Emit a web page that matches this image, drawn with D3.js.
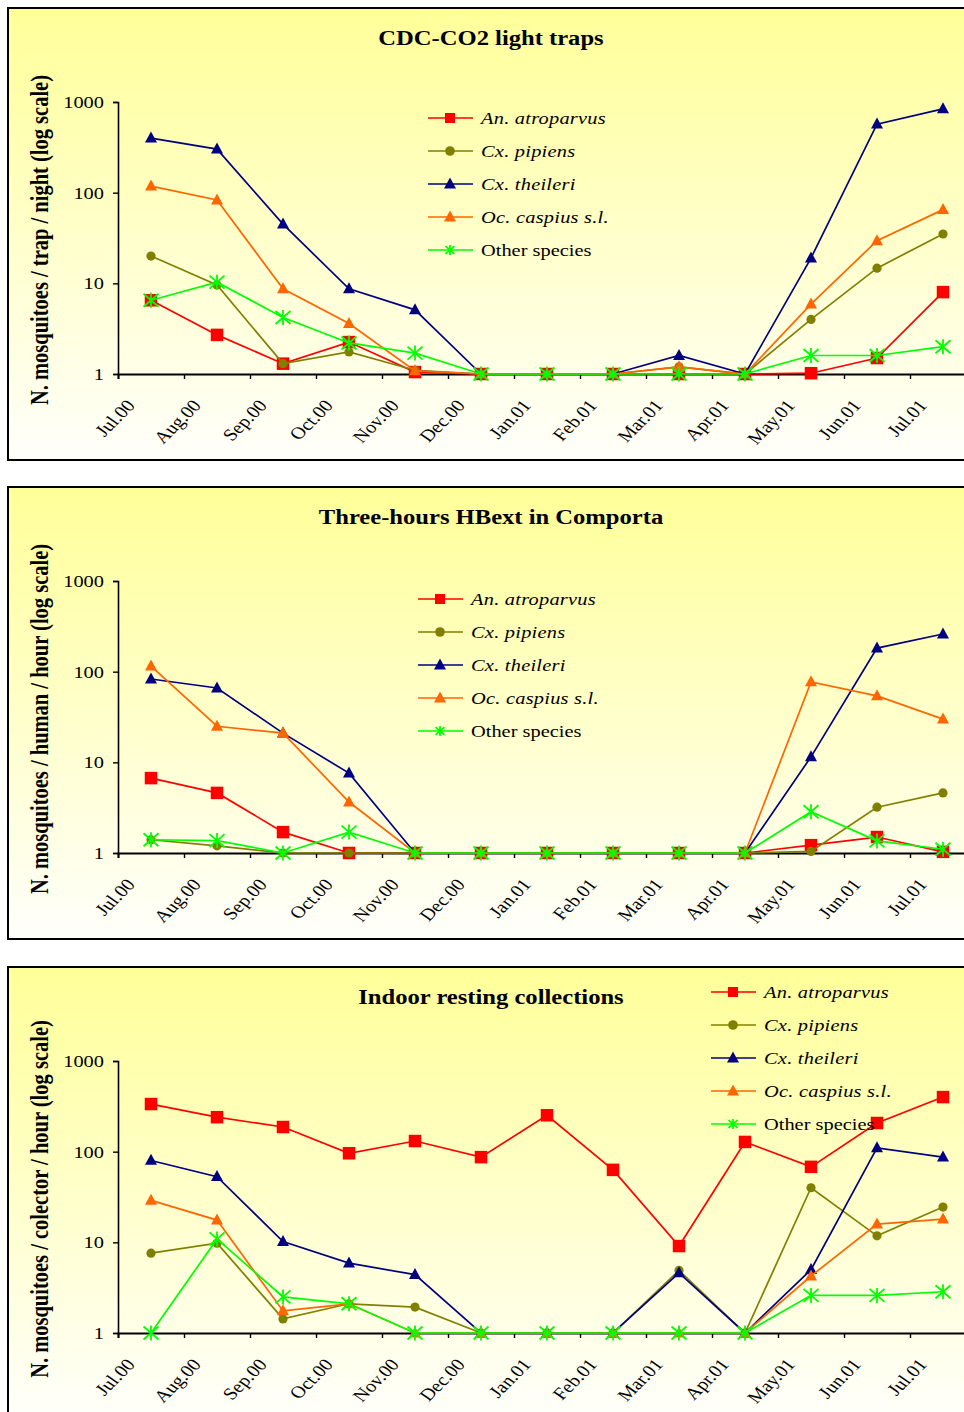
<!DOCTYPE html>
<html>
<head>
<meta charset="utf-8">
<script src="https://cdn.jsdelivr.net/npm/d3@7"></script>
<style>
  html, body { margin: 0; padding: 0; background: #ffffff; }
  svg { display: block; }
  text { font-family: "Liberation Serif", "Times New Roman", serif; fill: #000; }
</style>
</head>
<body>
<svg id="chart" width="964" height="1412"></svg>
<script>
// Months sampled (category axis)
const months = ["Jul.00","Aug.00","Sep.00","Oct.00","Nov.00","Dec.00","Jan.01","Feb.01","Mar.01","Apr.01","May.01","Jun.01","Jul.01"];
const species = ["An. atroparvus","Cx. pipiens","Cx. theileri","Oc. caspius s.l.","Other species"];
const yTicks = [1, 10, 100, 1000];

// CDC-CO2 light traps (mosquitoes / trap / night)
const cdcAtroparvus = [6.5, 2.7, 1.3, 2.25, 1.05, 1, 1, 1, 1, 1, 1.02, 1.5, 8];
const cdcPipiens    = [20, 9.6, 1.3, 1.75, 1.1, 1, 1, 1, 1.2, 1, 4, 14.7, 35];
const cdcTheileri   = [400, 302, 45, 8.7, 5.1, 1, 1, 1, 1.6, 1, 19, 570, 840];
const cdcCaspius    = [118, 83, 8.7, 3.6, 1.08, 1, 1, 1, 1.2, 1, 5.9, 29.5, 65];
const cdcOther      = [6.5, 10.3, 4.2, 2.2, 1.7, 1, 1, 1, 1, 1, 1.6, 1.6, 2];

// Three-hours human bait, Comporta (mosquitoes / human / hour)
const hbAtroparvus = [6.7, 4.6, 1.7, 1, 1, 1, 1, 1, 1, 1, 1.22, 1.5, 1.03];
const hbPipiens    = [1.4, 1.2, 1, 1, 1, 1, 1, 1, 1, 1, 1.04, 3.2, 4.6];
const hbTheileri   = [83, 66, 21, 7.6, 1, 1, 1, 1, 1, 1, 11.5, 182, 260];
const hbCaspius    = [115, 25, 21, 3.65, 1, 1, 1, 1, 1, 1, 77, 54, 30];
const hbOther      = [1.4, 1.37, 1, 1.7, 1, 1, 1, 1, 1, 1, 2.85, 1.36, 1.1];

// Indoor resting collections (mosquitoes / collector / hour)
const irAtroparvus = [335, 240, 187, 96, 131, 87, 252, 63, 9.1, 128, 68, 207, 400];
const irPipiens    = [7.6, 9.8, 1.43, 2.1, 1.93, 1, 1, 1, 4.9, 1, 40, 11.8, 24.5];
const irTheileri   = [80, 53, 10.2, 5.9, 4.4, 1, 1, 1, 4.6, 1, 5, 110, 87];
const irCaspius    = [29, 17.6, 1.75, 2.1, 1, 1, 1, 1, 1, 1, 4.25, 15.9, 18];
const irOther      = [1, 10.9, 2.5, 2.1, 1, 1, 1, 1, 1, 1, 2.6, 2.6, 2.85];

const panels = [
  { top: 8,   title: "CDC-CO2 light traps",
    ylabel: "N. mosquitoes / trap / night (log scale)",
    series: [cdcAtroparvus, cdcPipiens, cdcTheileri, cdcCaspius, cdcOther],
    legend: { x: 428, y: 110 } },
  { top: 487, title: "Three-hours HBext in Comporta",
    ylabel: "N. mosquitoes / human / hour (log scale)",
    series: [hbAtroparvus, hbPipiens, hbTheileri, hbCaspius, hbOther],
    legend: { x: 418, y: 112 } },
  { top: 967, title: "Indoor resting collections",
    ylabel: "N. mosquitoes / colector / hour (log scale)",
    series: [irAtroparvus, irPipiens, irTheileri, irCaspius, irOther],
    legend: { x: 711, y: 25 } }
];

const styles = [
  { color: "#ff0000", marker: "square",   legendScale: 0.8 },
  { color: "#808000", marker: "circle",   legendScale: 1.05 },
  { color: "#000080", marker: "triangle", legendScale: 1.0 },
  { color: "#ff6600", marker: "triangle", legendScale: 1.0 },
  { color: "#00ff00", marker: "star",     legendScale: 0.6 }
];

const SX = 1.2;                                   // horizontal glyph stretch
const ROT = -Math.atan(SX) * 180 / Math.PI;       // rotation that reads as 45° after stretch
const svg = d3.select("#chart");

const grad = svg.append("defs").append("linearGradient")
  .attr("id", "panelFill").attr("x1", 0).attr("y1", 0).attr("x2", 0).attr("y2", 1);
grad.append("stop").attr("offset", "0%").attr("stop-color", "#ffff99");
grad.append("stop").attr("offset", "100%").attr("stop-color", "#fffffb");

function drawMarker(g, type, color, x, y, k) {
  if (type === "square") {
    const s = 12.5 * k;
    g.append("rect").attr("x", x - s / 2).attr("y", y - s / 2).attr("width", s).attr("height", s)
      .attr("fill", color);
  } else if (type === "circle") {
    g.append("circle").attr("cx", x).attr("cy", y).attr("r", 4.6 * k).attr("fill", color);
  } else if (type === "triangle") {
    const w = 12 * k, h = 11 * k;
    g.append("path")
      .attr("d", `M${x},${y - h * 0.6}L${x + w / 2},${y + h * 0.4}L${x - w / 2},${y + h * 0.4}Z`)
      .attr("fill", color);
  } else if (type === "star") {
    const a = 7.5 * k, b = 6.5 * k;
    g.append("path")
      .attr("d", `M${x - a},${y - b}L${x + a},${y + b}M${x - a},${y + b}L${x + a},${y - b}M${x},${y - b - 1}L${x},${y + b + 1}`)
      .attr("stroke", color).attr("stroke-width", 1.8).attr("fill", "none");
  }
}

panels.forEach(p => {
  const g = svg.append("g");
  const top = p.top;
  const x0 = 118, band = 66;

  g.append("rect").attr("x", 8).attr("y", top).attr("width", 980).attr("height", 452)
    .attr("fill", "url(#panelFill)").attr("stroke", "#000").attr("stroke-width", 2);

  const x = d3.scaleBand().domain(months).range([x0, x0 + band * months.length]).padding(0);
  const y = d3.scaleLog().domain([1, 1000]).range([top + 366, top + 94]);
  const cx = m => x(m) + x.bandwidth() / 2;

  // title
  g.append("text")
    .attr("transform", `translate(491,${top + 37}) scale(${SX},1)`)
    .attr("text-anchor", "middle").attr("font-weight", "bold").attr("font-size", 20.5)
    .text(p.title);

  // y axis title
  g.append("text")
    .attr("transform", `translate(48,${top + 232}) scale(${SX},1) rotate(-90)`)
    .attr("text-anchor", "middle").attr("font-weight", "bold").attr("font-size", 20.5)
    .text(p.ylabel);

  // y axis
  const yAxis = d3.axisLeft(y).tickValues(yTicks).tickSize(5).tickFormat(d3.format("d"));
  const ya = g.append("g").attr("transform", `translate(${x0},0)`).call(yAxis);
  ya.select(".domain").attr("stroke", "#000").attr("stroke-width", 1.6);
  ya.selectAll(".tick line").attr("stroke", "#000").attr("stroke-width", 1.4);
  ya.selectAll(".tick text").remove();
  yTicks.forEach(v => {
    g.append("text")
      .attr("transform", `translate(104,${y(v) + 6}) scale(${SX},1)`)
      .attr("text-anchor", "end").attr("font-size", 17)
      .text(d3.format("d")(v));
  });

  // x axis: ticks on category boundaries, labels at category centres
  const xb = d3.scaleLinear().domain([0, months.length]).range([x0, x0 + band * months.length]);
  const xAxis = d3.axisBottom(xb).tickValues(d3.range(0, months.length + 1)).tickSize(5).tickFormat("");
  const xa = g.append("g").attr("transform", `translate(0,${y(1)})`).call(xAxis);
  xa.select(".domain").attr("stroke", "#000").attr("stroke-width", 2);
  xa.selectAll(".tick line").attr("stroke", "#000").attr("stroke-width", 1.4);
  months.forEach(m => {
    g.append("text")
      .attr("transform", `translate(${cx(m) - 15},${y(1) + 32}) scale(${SX},1) rotate(${ROT})`)
      .attr("text-anchor", "end").attr("font-size", 17)
      .text(m);
  });

  // series
  const line = d3.line().x((d, i) => cx(months[i])).y(d => y(d));
  p.series.forEach((vals, si) => {
    const st = styles[si];
    const sg = g.append("g");
    sg.append("path").datum(vals).attr("d", line)
      .attr("fill", "none").attr("stroke", st.color).attr("stroke-width", 1.7);
    vals.forEach((v, i) => drawMarker(sg, st.marker, st.color, cx(months[i]), y(v), 1));
  });

  // legend
  species.forEach((name, si) => {
    const st = styles[si];
    const ly = top + p.legend.y + si * 33;
    const lg = g.append("g");
    lg.append("line").attr("x1", p.legend.x).attr("x2", p.legend.x + 45)
      .attr("y1", ly).attr("y2", ly).attr("stroke", st.color).attr("stroke-width", 1.7);
    drawMarker(lg, st.marker, st.color, p.legend.x + 22, ly, st.legendScale);
    lg.append("text")
      .attr("transform", `translate(${p.legend.x + 53},${ly + 6}) scale(${SX},1)`)
      .attr("font-size", 17)
      .attr("font-style", si < 4 ? "italic" : "normal")
      .attr("letter-spacing", si < 4 ? 0.2 : 0)
      .text(name);
  });
});
</script>
</body>
</html>
